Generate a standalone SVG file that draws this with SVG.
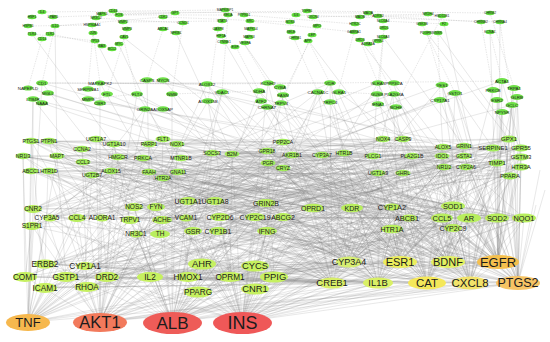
<svg xmlns="http://www.w3.org/2000/svg" width="550" height="342" viewBox="0 0 550 342">
<style>
text{font-family:"Liberation Sans",Arial,sans-serif;text-anchor:middle;fill:#1c1c1c}
.e{fill:none;stroke:#858585;stroke-width:.35;stroke-opacity:.55}
.ed{fill:none;stroke:#9a9a9a;stroke-width:.4;stroke-dasharray:1.5 1;stroke-opacity:.6}
.e0{fill:#62de3e}.e1{fill:#6fe048}.e2{fill:#a2eb5c}.e3{fill:#b8ee5e}.e4{fill:#c6f060}
.x0{font-size:3.4px}.x1{font-size:4.4px}.x2{font-size:5.2px}.x2b{font-size:6px}
.x3{font-size:6.5px}.x3m{font-size:7px}.x3b{font-size:7.4px}.x4{font-size:8.2px}.x4b{font-size:9.4px}
</style>
<rect width="550" height="342" fill="#ffffff"/>
<g id="connectors">
<path class="ed" d="M42 12L225 10M53 17L175 13M102 14L307 11M118 15L228 15M113 12L368 13M307 11L490 13M313 17L428 14M378 16L481 22M360 16L442 16M28 26L92 25M55 26L163 17M123 22L222 21M96 18L183 23M163 17L290 22M250 21L354 32M244 15L355 24M296 15L500 22M383 21L444 24M32 34L96 41M50 34L103 45M42 39L28 88M55 26L42 83M92 25L100 83M93 33L88 89M127 29L107 94M123 37L137 94M163 29L147 80M183 23L172 94M228 15L222 92M218 29L208 101M243 42L268 83M235 45L259 91M291 32L318 92M308 40L330 83M360 40L378 83M368 44L393 94M383 37L377 94M438 33L440 100M427 33L442 85M490 32L502 81M481 22L493 90M500 22L512 105M490 13L517 97M422 24L455 93M442 16L395 107M317 26L283 95M312 35L281 103M354 32L338 92M384 28L378 104M42 83L100 83M100 83L207 84M207 84L330 83M330 83L502 81M88 99L137 94M172 94L259 91M338 92L377 94"/>
<path class="e" d="M28 322L33 209M28 322L47 218M28 322L77 218M28 322L134 207M28 322L130 220M28 322L162 220M28 322L188 201M28 322L136 234M28 322L193 231M28 322L45 264M28 322L85 266M28 322L66 277M28 322L107 277M28 322L150 277M28 322L45 288M28 322L87 287M28 322L31 141M28 322L23 156M28 322L57 156M28 322L111 171M28 322L149 172M28 322L283 142M28 322L373 156M28 322L42 83M28 322L33 99M28 322L400 262M28 322L349 262M28 322L255 217M28 322L313 208M28 322L92 175M28 322L163 139M28 322L212 153M28 322L498 262M28 322L518 283"/>
<path class="e" d="M100 322L33 209M100 322L32 226M100 322L102 218M100 322L156 207M100 322L186 218M100 322L215 201M100 322L160 234M100 322L218 231M100 322L267 231M100 322L25 277M100 322L66 277M100 322L107 277M100 322L188 277M100 322L230 277M100 322L202 264M100 322L87 287M100 322L49 141M100 322L96 139M100 322L82 149M100 322L143 158M100 322L180 158M100 322L48 171M100 322L177 172M100 322L163 178M100 322L232 154M100 322L267 151M100 322L322 155M100 322L100 83M100 322L137 94M100 322L207 84M100 322L145 109M100 322L392 207M100 322L453 206M100 322L378 283M100 322L427 283M100 322L497 218M100 322L403 139M100 322L118 157M100 322L470 283M100 322L498 262M100 322L518 283"/>
<path class="e" d="M172 322L47 218M172 322L77 218M172 322L134 207M172 322L130 220M172 322L162 220M172 322L188 201M172 322L220 217M172 322L255 217M172 322L283 217M172 322L266 203M172 322L136 234M172 322L193 231M172 322L267 231M172 322L313 208M172 322L352 208M172 322L45 264M172 322L85 266M172 322L150 277M172 322L188 277M172 322L230 277M172 322L274 277M172 322L255 266M172 322L198 292M172 322L255 289M172 322L113 144M172 322L149 144M172 322L177 144M172 322L57 156M172 322L111 171M172 322L92 175M172 322L283 142M172 322L212 153M172 322L292 155M172 322L344 153M172 322L268 163M172 322L383 139M172 322L443 147M172 322L172 94M172 322L222 92M172 322L259 91M172 322L281 103M172 322L330 83M172 322L407 218M172 322L469 218M172 322L349 262M172 322L400 262M172 322L498 262M172 322L518 283M172 322L427 283M172 322L470 283"/>
<path class="e" d="M242 322L33 209M242 322L102 218M242 322L156 207M242 322L186 218M242 322L215 201M242 322L220 217M242 322L255 217M242 322L283 217M242 322L266 203M242 322L160 234M242 322L218 231M242 322L267 231M242 322L313 208M242 322L352 208M242 322L392 207M242 322L392 229M242 322L453 206M242 322L442 218M242 322L45 264M242 322L107 277M242 322L202 264M242 322L230 277M242 322L274 277M242 322L255 266M242 322L198 292M242 322L255 289M242 322L163 139M242 322L143 158M242 322L180 158M242 322L149 172M242 322L232 154M242 322L267 151M242 322L322 155M242 322L283 168M242 322L403 139M242 322L412 156M242 322L464 146M242 322L378 173M242 322L208 101M242 322L268 83M242 322L318 92M242 322L378 83M242 322L442 85M242 322L332 283M242 322L378 283M242 322L427 283M242 322L470 283M242 322L448 262M242 322L524 218M242 322L518 283M242 322L349 262M242 322L400 262M242 322L498 262"/>
<path class="e" d="M498 262L524 218M498 262L497 218M498 262L469 218M498 262L453 206M498 262L442 218M498 262L453 228M498 262L407 218M498 262L392 207M498 262L392 229M498 262L352 208M498 262L313 208M498 262L283 217M498 262L255 217M498 262L267 231M498 262L509 139M498 262L521 148M498 262L493 148M498 262L521 157M498 262L497 163M498 262L521 167M498 262L510 176M498 262L465 167M498 262L444 167M498 262L464 146M498 262L443 147M498 262L442 156M498 262L403 139M498 262L412 156M498 262L378 173M498 262L502 81M498 262L513 88M498 262L517 97M498 262L512 105M498 262L502 112M498 262L497 100M498 262L442 85M498 262L455 93M498 262L393 94M498 262L395 107M498 262L344 153M498 262L322 155M498 262L490 32M498 262L500 22M498 262L444 24M498 262L283 142M498 262L218 231M498 262L188 201M498 262L400 262M498 262L349 262M498 262L470 283M498 262L66 277M498 262L188 277M498 262L45 288"/>
<path class="e" d="M518 283L524 218M518 283L497 218M518 283L469 218M518 283L453 206M518 283L453 228M518 283L442 218M518 283L407 218M518 283L392 229M518 283L352 208M518 283L313 208M518 283L255 217M518 283L509 139M518 283L521 148M518 283L521 157M518 283L521 167M518 283L510 176M518 283L497 163M518 283L493 148M518 283L465 167M518 283L464 156M518 283L444 167M518 283L403 173M518 283L378 173M518 283L373 156M518 283L513 88M518 283L517 97M518 283L512 105M518 283L502 112M518 283L440 100M518 283L455 93M518 283L378 104M518 283L267 151M518 283L292 155M518 283L220 217M518 283L193 231M518 283L162 220M518 283L134 207M518 283L545 190M518 283L540 170M518 283L536 205M518 283L45 264M518 283L107 277M518 283L255 266"/>
<path class="e" d="M470 283L524 218M470 283L497 218M470 283L469 218M470 283L453 206M470 283L442 218M470 283L453 228M470 283L407 218M470 283L392 207M470 283L392 229M470 283L352 208M470 283L313 208M470 283L283 217M470 283L267 231M470 283L521 148M470 283L493 148M470 283L497 163M470 283L510 176M470 283L465 167M470 283L444 167M470 283L442 156M470 283L412 156M470 283L403 139M470 283L383 139M470 283L378 173M470 283L502 81M470 283L512 105M470 283L442 85M470 283L393 83M470 283L344 153M470 283L322 155M470 283L283 168M470 283L266 203M470 283L218 231M470 283L186 218M470 283L25 277M470 283L150 277M470 283L202 264"/>
<path class="e" d="M427 283L524 218M427 283L469 218M427 283L453 206M427 283L442 218M427 283L453 228M427 283L407 218M427 283L392 207M427 283L392 229M427 283L352 208M427 283L313 208M427 283L283 217M427 283L255 217M427 283L267 231M427 283L220 217M427 283L509 139M427 283L493 148M427 283L521 157M427 283L497 163M427 283L465 167M427 283L444 167M427 283L464 146M427 283L443 147M427 283L412 156M427 283L373 156M427 283L383 139M427 283L403 173M427 283L344 153M427 283L322 155M427 283L292 155M427 283L268 163M427 283L283 142M427 283L377 94M427 283L395 107M427 283L338 92M427 283L283 95M427 283L193 231M427 283L160 234M427 283L85 266M427 283L188 277M427 283L87 287"/>
<path class="e" d="M448 262L497 218M448 262L469 218M448 262L453 206M448 262L442 218M448 262L407 218M448 262L392 207M448 262L392 229M448 262L352 208M448 262L313 208M448 262L283 217M448 262L266 203M448 262L509 139M448 262L521 148M448 262L521 167M448 262L497 163M448 262L465 167M448 262L444 167M448 262L442 156M448 262L464 156M448 262L403 139M448 262L412 156M448 262L378 173M448 262L344 153M448 262L322 155M448 262L283 168M448 262L267 151M448 262L493 90M448 262L455 93M448 262L378 83M448 262L330 102M448 262L215 201M448 262L162 220"/>
<path class="e" d="M400 262L524 218M400 262L497 218M400 262L453 206M400 262L442 218M400 262L453 228M400 262L407 218M400 262L392 207M400 262L392 229M400 262L352 208M400 262L313 208M400 262L283 217M400 262L255 217M400 262L220 217M400 262L188 201M400 262L509 139M400 262L493 148M400 262L497 163M400 262L510 176M400 262L465 167M400 262L444 167M400 262L443 147M400 262L412 156M400 262L373 156M400 262L383 139M400 262L403 173M400 262L378 173M400 262L344 153M400 262L322 155M400 262L292 155M400 262L268 163M400 262L283 142M400 262L232 154M400 262L318 92M400 262L330 83M400 262L393 94M400 262L281 103M400 262L261 101M400 262L177 172M400 262L143 158M400 262L66 277M400 262L150 277M400 262L230 277M400 262L45 288"/>
<path class="e" d="M378 283L497 218M378 283L469 218M378 283L453 206M378 283L442 218M378 283L407 218M378 283L392 207M378 283L392 229M378 283L352 208M378 283L313 208M378 283L283 217M378 283L267 231M378 283L255 217M378 283L266 203M378 283L218 231M378 283L186 218M378 283L493 148M378 283L465 167M378 283L444 167M378 283L443 147M378 283L412 156M378 283L383 139M378 283L378 173M378 283L344 153M378 283L322 155M378 283L283 168M378 283L267 151M378 283L212 153M378 283L180 158M378 283L330 102M378 283L259 91M378 283L222 92M378 283L274 277M378 283L255 289M378 283L45 264M378 283L107 277M378 283L188 277M378 283L202 264"/>
<path class="e" d="M332 283L469 218M332 283L453 228M332 283L407 218M332 283L392 207M332 283L392 229M332 283L352 208M332 283L313 208M332 283L283 217M332 283L267 231M332 283L255 217M332 283L266 203M332 283L220 217M332 283L193 231M332 283L162 220M332 283L134 207M332 283L464 146M332 283L444 167M332 283L412 156M332 283L373 156M332 283L403 139M332 283L378 173M332 283L344 153M332 283L322 155M332 283L292 155M332 283L268 163M332 283L232 154M332 283L177 144M332 283L149 172M332 283L330 83M332 283L279 86M332 283L207 84M332 283L274 277M332 283L230 277M332 283L25 277M332 283L66 277M332 283L107 277M332 283L150 277M332 283L188 277M332 283L202 264M332 283L45 264M332 283L85 266M332 283L45 288M332 283L87 287"/>
<path class="e" d="M349 262L453 206M349 262L442 218M349 262L407 218M349 262L392 207M349 262L392 229M349 262L352 208M349 262L313 208M349 262L283 217M349 262L255 217M349 262L220 217M349 262L188 201M349 262L160 234M349 262L465 167M349 262L444 167M349 262L442 156M349 262L378 173M349 262L403 173M349 262L412 156M349 262L344 153M349 262L322 155M349 262L292 155M349 262L283 168M349 262L267 151M349 262L212 153M349 262L163 178M349 262L118 157M349 262L393 94M349 262L318 92M349 262L163 109M349 262L96 139M349 262L274 277M349 262L255 266M349 262L25 277M349 262L66 277M349 262L150 277M349 262L45 264M349 262L85 266M349 262L198 292M349 262L230 277"/>
<path class="e" d="M100 83L330 83M42 83L207 84M23 156L180 158M31 141L177 144M32 171L111 171M57 156L443 147M49 141L403 139M82 149L322 155M113 144L509 139M118 157L464 156M143 158L412 156M163 139L493 148M177 172L442 156M92 175L378 173M83 162L268 163M48 171L283 168M149 172L521 167M111 171L465 167M163 178L403 173M212 153L373 156M232 154L521 148M267 151L510 176M283 142L444 167M292 155L497 163M322 155L521 157M344 153L493 148M268 163L383 139M42 83L111 171M33 99L83 162M100 83L143 158M137 94L180 158M147 80L149 172M163 80L232 154M172 94L212 153M207 84L267 151M222 92L292 155M208 101L163 178M145 109L92 175M268 83L283 142M259 91L322 155M283 95L268 163M330 83L344 153M318 92L283 168M338 92L403 139M378 83L412 156M393 94L442 156M377 94L373 156M442 85L464 146M455 93L493 148M440 100L444 167M502 81L521 148M513 88L509 139M517 97L521 167M502 112L497 163M497 100L510 176M32 34L113 144M55 26L57 156M96 41L149 144M118 43L163 139M123 37L267 151M176 33L232 154M221 36L283 142M243 42L322 155M308 40L383 139M360 40L443 147M383 37L464 146M427 33L509 139M438 33L521 148M42 83L524 218M33 99L497 218M28 88L469 218M100 83L453 228M48 93L442 218M107 94L407 218M137 94L392 229M42 103L352 208M23 156L313 208M31 141L392 207M32 171L266 203M57 156L255 217M147 80L521 157M207 84L521 167M163 80L510 176M100 103L497 163M88 99L465 167M330 83L33 209M378 83L47 218M393 94L32 226M442 85L77 218M502 81L102 218M512 105L134 207M455 93L130 220M440 100L156 207M395 107L162 220M377 94L186 218M318 92L136 234M283 95L160 234M261 101L193 231M222 92L188 201"/>
<path class="e" d="M283 217L407 218M47 218L102 218M102 218L186 218M33 209L134 207M156 207L188 201M215 201L266 203M313 208L392 207M453 206L524 218M442 218L524 218M136 234L193 231M218 231L267 231M392 229L453 228M25 277L66 277M66 277L107 277M107 277L150 277M150 277L188 277M188 277L230 277M230 277L274 277M45 264L85 266M202 264L255 266M45 288L87 287M198 292L255 289M332 283L378 283M378 283L427 283M427 283L470 283M470 283L518 283M349 262L400 262M400 262L448 262M448 262L498 262M45 264L33 209M85 266L77 218M25 277L32 226M66 277L47 218M107 277L102 218M150 277L134 207M188 277L186 218M230 277L220 217M274 277L255 217M202 264L193 231M255 266L267 231M45 288L31 141M87 287L82 149M198 292L212 153M255 289L283 142M25 277L23 156M66 277L57 156M107 277L113 144M150 277L149 144M188 277L177 172M230 277L232 154M274 277L268 163M45 264L48 171M85 266L92 175M202 264L163 178M255 266L322 155M30 230L30 318M33 209L33 99"/>
<path class="e" d="M33 209L163 139M33 209L283 142M33 209L443 147M33 209L143 158M33 209L292 155M50 218L177 144M50 218L232 154M50 218L383 139M50 218L118 157M50 218L509 139M32 226L149 144M32 226L267 151M32 226L412 156M32 226L111 171M32 226L181 158M77 218L31 141M77 218L322 155M77 218L464 146M77 218L178 172M77 218L521 148M102 218L23 156M102 218L344 153M102 218L442 156M102 218L212 153M102 218L521 157M134 207L49 141M134 207L268 163M134 207L464 156M134 207L57 156M134 207L497 163M156 207L96 139M156 207L283 168M156 207L444 167M156 207L31 171M156 207L521 167M130 220L114 144M130 220L373 156M130 220L466 167M130 220L49 171M130 220L510 176M162 220L82 149M162 220L378 173M162 220L403 173M162 220L92 175M162 220L292 155M186 218L31 141M186 218L383 139M186 218L493 148M186 218L83 162M186 218L322 155M188 201L23 156M188 201L403 139M188 201L509 139M188 201L31 171M188 201L344 153M215 201L49 141M215 201L443 147M215 201L521 148M215 201L49 171M215 201L373 156M220 217L96 139M220 217L464 146M220 217L521 157M220 217L111 171M220 217L412 156M255 217L82 149M255 217L442 156M255 217L497 163M255 217L149 172M255 217L57 156M283 217L31 141M283 217L464 156M283 217L521 167M283 217L163 178M283 217L118 157M266 203L23 156M266 203L444 167M266 203L510 176M266 203L92 175M266 203L143 158M136 234L283 142M136 234L466 167M136 234L267 151M136 234L177 144M136 234L509 139M160 234L212 153M160 234L378 173M160 234L292 155M160 234L163 139M160 234L521 148M193 231L232 154M193 231L403 173M193 231L322 155M193 231L149 144M193 231L521 157M218 231L31 171M218 231L493 148M218 231L344 153M218 231L82 149M218 231L497 163M267 231L49 171M267 231L509 139M267 231L268 163M267 231L114 144M267 231L521 167"/>
<path class="e" d="M313 208L31 141M313 208L23 156M313 208L111 171M313 208L521 148M313 208L283 168M352 208L49 141M352 208L57 156M352 208L149 172M352 208L521 157M352 208L178 172M392 207L96 139M392 207L118 157M392 207L163 178M392 207L497 163M392 207L181 158M409 218L114 144M409 218L83 162M409 218L92 175M409 218L521 167M409 218L232 154M392 229L82 149M392 229L31 171M392 229L283 142M392 229L510 176M392 229L267 151M453 206L149 144M453 206L49 171M453 206L212 153M453 206L31 141M453 206L268 163M442 218L163 139M442 218L111 171M442 218L232 154M442 218L23 156M442 218L283 168M469 218L177 144M469 218L149 172M469 218L267 151M469 218L57 156M469 218L383 139M497 218L143 158M497 218L178 172M497 218L292 155M497 218L49 141M497 218L403 139M524 218L181 158M524 218L163 178M524 218L322 155M524 218L96 139M524 218L443 147M453 228L83 162M453 228L92 175M453 228L344 153M453 228L118 157M453 228L464 146M31 141L443 147M49 141L466 167M96 139L292 155M114 144L521 148M82 149L464 156M149 144L383 139M163 139L521 167M177 144L412 156M23 156L322 155M57 156L509 139M118 157L373 156M143 158L497 163M181 158L403 173M83 162L283 168M31 171L267 151M49 171L510 176M111 171L464 146M149 172L493 148M178 172L442 156M163 178L344 153M92 175L378 173M283 142L521 157M212 153L444 167M232 154L403 139M268 163L521 148M33 209L352 208M50 218L497 218M32 226L193 231M77 218L392 229M102 218L524 218M134 207L392 207M156 207L453 206M130 220L313 208M162 220L469 218M186 218L453 228M188 201L409 218M215 201L442 218M220 217L267 231M255 217L497 218M283 217L453 206M266 203L524 218M136 234L352 208M160 234L392 229M193 231L392 207M218 231L442 218"/>
<path class="e" d="M45 264L392 207M45 264L443 147M45 264L524 218M45 264L509 139M85 266L313 208M85 266L442 156M85 266L442 218M85 266L292 155M25 277L215 201M25 277L283 142M25 277L453 206M25 277L383 139M66 277L266 203M66 277L344 153M66 277L497 218M66 277L521 148M107 277L352 208M107 277L373 156M107 277L469 218M107 277L521 157M150 277L409 218M150 277L464 156M150 277L524 218M150 277L378 173M188 277L392 229M188 277L466 167M188 277L497 218M188 277L322 155M230 277L453 206M230 277L403 173M230 277L469 218M230 277L96 139M274 277L442 218M274 277L493 148M274 277L33 209M274 277L31 141M202 264L453 228M202 264L412 156M202 264L32 226M202 264L23 156M255 266L524 218M255 266L521 148M255 266L77 218M255 266L31 171M45 288L283 217M45 288L268 163M45 288L392 207M45 288L464 146M87 287L267 231M87 287L283 168M87 287L392 229M87 287L444 167M198 292L469 218M198 292L497 163M198 292L50 218M198 292L49 141M255 289L497 218M255 289L521 167M255 289L102 218M255 289L83 162"/>
</g>
<g id="nodes">
<g id="n-il4"><ellipse class="e0" cx="42" cy="12" rx="4.5" ry="2.2"/><text class="x0" x="42" y="13.2">IL4</text></g>
<g id="n-hsf1"><ellipse class="e0" cx="32" cy="17" rx="4.5" ry="2.2"/><text class="x0" x="32" y="18.2">HSF1</text></g>
<g id="n-lpar1"><ellipse class="e0" cx="53" cy="17" rx="4.5" ry="2.2"/><text class="x0" x="53" y="18.2">LPAR1</text></g>
<g id="n-hspb1"><ellipse class="e0" cx="28" cy="26" rx="4.5" ry="2.2"/><text class="x0" x="28" y="27.2">HSPB1</text></g>
<g id="n-il10"><ellipse class="e0" cx="55" cy="26" rx="4.5" ry="2.2"/><text class="x0" x="55" y="27.2">IL10</text></g>
<g id="n-tlr4"><ellipse class="e0" cx="32" cy="34" rx="4.5" ry="2.2"/><text class="x0" x="32" y="35.2">TLR4</text></g>
<g id="n-tlr2"><ellipse class="e0" cx="50" cy="34" rx="4.5" ry="2.2"/><text class="x0" x="50" y="35.2">TLR2</text></g>
<g id="n-cd14"><ellipse class="e0" cx="42" cy="39" rx="4.5" ry="2.2"/><text class="x0" x="42" y="40.2">CD14</text></g>
<g id="n-nr3c2"><ellipse class="e0" cx="96" cy="18" rx="4.5" ry="2.2"/><text class="x0" x="96" y="19.2">NR3C2</text></g>
<g id="n-mapk1"><ellipse class="e0" cx="102" cy="14" rx="4.5" ry="2.2"/><text class="x0" x="102" y="15.2">MAPK1</text></g>
<g id="n-cd44"><ellipse class="e0" cx="113" cy="11" rx="4.5" ry="2.2"/><text class="x0" x="113" y="12.2">CD44</text></g>
<g id="n-fos"><ellipse class="e0" cx="119" cy="15" rx="4.5" ry="2.2"/><text class="x0" x="119" y="16.2">FOS</text></g>
<g id="n-hsp90"><ellipse class="e0" cx="92" cy="25" rx="4.5" ry="2.2"/><text class="x0" x="92" y="26.2">HSP90AA1</text></g>
<g id="n-jun"><ellipse class="e0" cx="93" cy="33" rx="4.5" ry="2.2"/><text class="x0" x="93" y="34.2">JUN</text></g>
<g id="n-mmp2"><ellipse class="e0" cx="123" cy="22" rx="4.5" ry="2.2"/><text class="x0" x="123" y="23.2">MMP2</text></g>
<g id="n-mmp3"><ellipse class="e0" cx="127" cy="29" rx="4.5" ry="2.2"/><text class="x0" x="127" y="30.2">MMP3</text></g>
<g id="n-tp53"><ellipse class="e0" cx="95" cy="41" rx="4.5" ry="2.2"/><text class="x0" x="95" y="42.2">TP53</text></g>
<g id="n-bax"><ellipse class="e0" cx="102" cy="46" rx="4.5" ry="2.2"/><text class="x0" x="102" y="47.2">BAX</text></g>
<g id="n-bcl2"><ellipse class="e0" cx="112" cy="49" rx="4.5" ry="2.2"/><text class="x0" x="112" y="50.2">BCL2</text></g>
<g id="n-myc"><ellipse class="e0" cx="119" cy="44" rx="4.5" ry="2.2"/><text class="x0" x="119" y="45.2">MYC</text></g>
<g id="n-cav1"><ellipse class="e0" cx="124" cy="37" rx="4.5" ry="2.2"/><text class="x0" x="124" y="38.2">CAV1</text></g>
<g id="n-gpt"><ellipse class="e0" cx="175" cy="13" rx="4.5" ry="2.2"/><text class="x0" x="175" y="14.2">GPT</text></g>
<g id="n-cdk2"><ellipse class="e0" cx="163" cy="17" rx="4.5" ry="2.2"/><text class="x0" x="163" y="18.2">CDK2</text></g>
<g id="n-ccnd1"><ellipse class="e0" cx="183" cy="23" rx="4.5" ry="2.2"/><text class="x0" x="183" y="24.2">CCND1</text></g>
<g id="n-abca1"><ellipse class="e0" cx="163" cy="29" rx="4.5" ry="2.2"/><text class="x0" x="163" y="30.2">ABCA1</text></g>
<g id="n-nfkb1"><ellipse class="e0" cx="176" cy="33" rx="4.5" ry="2.2"/><text class="x0" x="176" y="34.2">NFKB1</text></g>
<g id="n-mapk8ip1"><ellipse class="e0" cx="225" cy="10" rx="4.5" ry="2.2"/><text class="x0" x="225" y="11.2">MAPK8IP1</text></g>
<g id="n-rela"><ellipse class="e0" cx="228" cy="15" rx="4.5" ry="2.2"/><text class="x0" x="228" y="16.2">RELA</text></g>
<g id="n-ptpn11"><ellipse class="e0" cx="244" cy="15" rx="4.5" ry="2.2"/><text class="x0" x="244" y="16.2">PTPN11</text></g>
<g id="n-stat3"><ellipse class="e0" cx="222" cy="21" rx="4.5" ry="2.2"/><text class="x0" x="222" y="22.2">STAT3</text></g>
<g id="n-src"><ellipse class="e0" cx="250" cy="21" rx="4.5" ry="2.2"/><text class="x0" x="250" y="22.2">SRC</text></g>
<g id="n-casp8"><ellipse class="e0" cx="218" cy="29" rx="4.5" ry="2.2"/><text class="x0" x="218" y="30.2">CASP8</text></g>
<g id="n-mapk14"><ellipse class="e0" cx="251" cy="29" rx="4.5" ry="2.2"/><text class="x0" x="251" y="30.2">MAPK14</text></g>
<g id="n-hif1a"><ellipse class="e0" cx="221" cy="36" rx="4.5" ry="2.2"/><text class="x0" x="221" y="37.2">HIF1A</text></g>
<g id="n-mapk3"><ellipse class="e0" cx="249" cy="37" rx="4.5" ry="2.2"/><text class="x0" x="249" y="38.2">MAPK3</text></g>
<g id="n-ctnnb1"><ellipse class="e0" cx="224" cy="42" rx="4.5" ry="2.2"/><text class="x0" x="224" y="43.2">CTNNB1</text></g>
<g id="n-egf"><ellipse class="e0" cx="235" cy="47" rx="4.5" ry="2.2"/><text class="x0" x="235" y="48.2">EGF</text></g>
<g id="n-vegfa"><ellipse class="e0" cx="245" cy="43" rx="4.5" ry="2.2"/><text class="x0" x="245" y="44.2">VEGFA</text></g>
<g id="n-tgfb1"><ellipse class="e0" cx="307" cy="11" rx="4.5" ry="2.2"/><text class="x0" x="307" y="12.2">TGFB1</text></g>
<g id="n-il6"><ellipse class="e0" cx="296" cy="15" rx="4.5" ry="2.2"/><text class="x0" x="296" y="16.2">IL6</text></g>
<g id="n-cxcr4"><ellipse class="e0" cx="313" cy="17" rx="4.5" ry="2.2"/><text class="x0" x="313" y="18.2">CXCR4</text></g>
<g id="n-nos3"><ellipse class="e0" cx="290" cy="22" rx="4.5" ry="2.2"/><text class="x0" x="290" y="23.2">NOS3</text></g>
<g id="n-mpo"><ellipse class="e0" cx="317" cy="26" rx="4.5" ry="2.2"/><text class="x0" x="317" y="27.2">MPO</text></g>
<g id="n-sele"><ellipse class="e0" cx="291" cy="32" rx="4.5" ry="2.2"/><text class="x0" x="291" y="33.2">SELE</text></g>
<g id="n-lep"><ellipse class="e0" cx="312" cy="35" rx="4.5" ry="2.2"/><text class="x0" x="312" y="36.2">LEP</text></g>
<g id="n-chrm1"><ellipse class="e0" cx="295" cy="38" rx="4.5" ry="2.2"/><text class="x0" x="295" y="39.2">CHRM1</text></g>
<g id="n-app"><ellipse class="e0" cx="308" cy="41" rx="4.5" ry="2.2"/><text class="x0" x="308" y="42.2">APP</text></g>
<g id="n-maoa"><ellipse class="e0" cx="368" cy="13" rx="4.5" ry="2.2"/><text class="x0" x="368" y="14.2">MAOA</text></g>
<g id="n-maob"><ellipse class="e0" cx="360" cy="17" rx="4.5" ry="2.2"/><text class="x0" x="360" y="18.2">MAOB</text></g>
<g id="n-adrb2"><ellipse class="e0" cx="378" cy="16" rx="4.5" ry="2.2"/><text class="x0" x="378" y="17.2">ADRB2</text></g>
<g id="n-slc6a4"><ellipse class="e0" cx="383" cy="21" rx="4.5" ry="2.2"/><text class="x0" x="383" y="22.2">SLC6A4</text></g>
<g id="n-htr2c"><ellipse class="e0" cx="355" cy="24" rx="4.5" ry="2.2"/><text class="x0" x="355" y="25.2">HTR2C</text></g>
<g id="n-drd1"><ellipse class="e0" cx="384" cy="28" rx="4.5" ry="2.2"/><text class="x0" x="384" y="29.2">DRD1</text></g>
<g id="n-gabra1"><ellipse class="e0" cx="354" cy="32" rx="4.5" ry="2.2"/><text class="x0" x="354" y="33.2">GABRA1</text></g>
<g id="n-slc6a3"><ellipse class="e0" cx="383" cy="37" rx="4.5" ry="2.2"/><text class="x0" x="383" y="38.2">SLC6A3</text></g>
<g id="n-drd3"><ellipse class="e0" cx="360" cy="40" rx="4.5" ry="2.2"/><text class="x0" x="360" y="41.2">DRD3</text></g>
<g id="n-adra2a"><ellipse class="e0" cx="368" cy="44" rx="4.5" ry="2.2"/><text class="x0" x="368" y="45.2">ADRA2A</text></g>
<g id="n-oprk1"><ellipse class="e0" cx="378" cy="41" rx="4.5" ry="2.2"/><text class="x0" x="378" y="42.2">OPRK1</text></g>
<g id="n-nr1h4"><ellipse class="e0" cx="428" cy="14" rx="4.5" ry="2.2"/><text class="x0" x="428" y="15.2">NR1H4</text></g>
<g id="n-hsd11b1"><ellipse class="e0" cx="442" cy="16" rx="4.5" ry="2.2"/><text class="x0" x="442" y="17.2">HSD11B1</text></g>
<g id="n-gsk3b"><ellipse class="e0" cx="422" cy="24" rx="4.5" ry="2.2"/><text class="x0" x="422" y="25.2">GSK3B</text></g>
<g id="n-f2"><ellipse class="e0" cx="444" cy="24" rx="4.5" ry="2.2"/><text class="x0" x="444" y="25.2">F2</text></g>
<g id="n-pdgfrb"><ellipse class="e0" cx="427" cy="33" rx="4.5" ry="2.2"/><text class="x0" x="427" y="34.2">PDGFRB</text></g>
<g id="n-insr"><ellipse class="e0" cx="438" cy="33" rx="4.5" ry="2.2"/><text class="x0" x="438" y="34.2">INSR</text></g>
<g id="n-chrm2"><ellipse class="e0" cx="490" cy="13" rx="4.5" ry="2.2"/><text class="x0" x="490" y="14.2">CHRM2</text></g>
<g id="n-chrnb2"><ellipse class="e0" cx="481" cy="22" rx="4.5" ry="2.2"/><text class="x0" x="481" y="23.2">CHRNB2</text></g>
<g id="n-chrna4"><ellipse class="e0" cx="500" cy="22" rx="4.5" ry="2.2"/><text class="x0" x="500" y="23.2">CHRNA4</text></g>
<g id="n-kcna1"><ellipse class="e0" cx="490" cy="32" rx="4.5" ry="2.2"/><text class="x0" x="490" y="33.2">KCNA1</text></g>

<g id="n-cd1"><ellipse class="e1" cx="42" cy="83" rx="6" ry="2.8"/><text class="x1" x="42" y="84.6">CD1</text></g>
<g id="n-napepld"><ellipse class="e1" cx="28" cy="88" rx="5" ry="2.6"/><text class="x1" x="28" y="89.6">NAPEPLD</text></g>
<g id="n-mgll"><ellipse class="e1" cx="48" cy="93" rx="6" ry="2.8"/><text class="x1" x="48" y="94.6">MGLL</text></g>
<g id="n-ltb4r"><ellipse class="e1" cx="33" cy="99" rx="6" ry="2.8"/><text class="x1" x="33" y="100.6">LTB4R</text></g>
<g id="n-naaa"><ellipse class="e1" cx="42" cy="103" rx="6" ry="2.8"/><text class="x1" x="42" y="104.6">NAAA</text></g>
<g id="n-mapkapk2"><ellipse class="e1" cx="100" cy="83" rx="5" ry="2.6"/><text class="x1" x="100" y="84.6">MAPKAPK2</text></g>
<g id="n-serpina1"><ellipse class="e1" cx="88" cy="89" rx="6" ry="2.8"/><text class="x1" x="88" y="90.6">SERPINA1</text></g>
<g id="n-ftl"><ellipse class="e1" cx="107" cy="94" rx="6" ry="2.8"/><text class="x1" x="107" y="95.6">FTL</text></g>
<g id="n-mmp9"><ellipse class="e1" cx="88" cy="99" rx="6" ry="2.8"/><text class="x1" x="88" y="100.6">MMP9</text></g>
<g id="n-cbr1"><ellipse class="e1" cx="100" cy="103" rx="6" ry="2.8"/><text class="x1" x="100" y="104.6">CBR1</text></g>
<g id="n-flt4"><ellipse class="e1" cx="137" cy="94" rx="6" ry="2.8"/><text class="x1" x="137" y="95.6">FLT4</text></g>
<g id="n-casp3"><ellipse class="e1" cx="147" cy="80" rx="6" ry="2.8"/><text class="x1" x="147" y="81.6">CASP3</text></g>
<g id="n-mycn"><ellipse class="e1" cx="163" cy="80" rx="6" ry="2.8"/><text class="x1" x="163" y="81.6">MYCN</text></g>
<g id="n-nmb"><ellipse class="e1" cx="172" cy="94" rx="6" ry="2.8"/><text class="x1" x="172" y="95.6">NMB</text></g>
<g id="n-alox12"><ellipse class="e1" cx="207" cy="84" rx="6" ry="2.8"/><text class="x1" x="207" y="85.6">ALOX12</text></g>
<g id="n-vdac1"><ellipse class="e1" cx="222" cy="92" rx="6" ry="2.8"/><text class="x1" x="222" y="93.6">VDAC1</text></g>
<g id="n-alox15b"><ellipse class="e1" cx="208" cy="101" rx="6" ry="2.8"/><text class="x1" x="208" y="102.6">ALOX15B</text></g>
<g id="n-grin2a"><ellipse class="e1" cx="145" cy="109" rx="6" ry="2.8"/><text class="x1" x="145" y="110.6">GRIN2A</text></g>
<g id="n-alox5ap"><ellipse class="e1" cx="163" cy="109" rx="6" ry="2.8"/><text class="x1" x="163" y="110.6">ALOX5AP</text></g>
<g id="n-kcnh2"><ellipse class="e1" cx="268" cy="83" rx="6" ry="2.8"/><text class="x1" x="268" y="84.6">KCNH2</text></g>
<g id="n-cyba"><ellipse class="e1" cx="280" cy="87" rx="6" ry="2.8"/><text class="x1" x="280" y="88.6">CYBA</text></g>
<g id="n-sdha"><ellipse class="e1" cx="259" cy="91" rx="6" ry="2.8"/><text class="x1" x="259" y="92.6">SDHA</text></g>
<g id="n-fasn"><ellipse class="e1" cx="283" cy="95" rx="6" ry="2.8"/><text class="x1" x="283" y="96.6">FASN</text></g>
<g id="n-atf2"><ellipse class="e1" cx="261" cy="101" rx="6" ry="2.8"/><text class="x1" x="261" y="102.6">ATF2</text></g>
<g id="n-trpv4"><ellipse class="e1" cx="281" cy="103" rx="6" ry="2.8"/><text class="x1" x="281" y="104.6">TRPV4</text></g>
<g id="n-chrna7"><ellipse class="e1" cx="267" cy="107" rx="6" ry="2.8"/><text class="x1" x="267" y="108.6">CHRNA7</text></g>
<g id="n-vdr"><ellipse class="e1" cx="330" cy="83" rx="6" ry="2.8"/><text class="x1" x="330" y="84.6">VDR</text></g>
<g id="n-cacna1c"><ellipse class="e1" cx="318" cy="92" rx="6" ry="2.8"/><text class="x1" x="318" y="93.6">CACNA1C</text></g>
<g id="n-glra1"><ellipse class="e1" cx="339" cy="92" rx="6" ry="2.8"/><text class="x1" x="339" y="93.6">GLRA1</text></g>
<g id="n-trpc4"><ellipse class="e1" cx="330" cy="102" rx="6" ry="2.8"/><text class="x1" x="330" y="103.6">TRPC4</text></g>
<g id="n-glra3"><ellipse class="e1" cx="378" cy="83" rx="6" ry="2.8"/><text class="x1" x="378" y="84.6">GLRA3</text></g>
<g id="n-ppp3ca"><ellipse class="e1" cx="394" cy="83" rx="6" ry="2.8"/><text class="x1" x="394" y="84.6">PPP3CA</text></g>
<g id="n-gusb"><ellipse class="e1" cx="377" cy="94" rx="6" ry="2.8"/><text class="x1" x="377" y="95.6">GUSB</text></g>
<g id="n-pla2g4a"><ellipse class="e1" cx="394" cy="94" rx="6" ry="2.8"/><text class="x1" x="394" y="95.6">PLA2G4A</text></g>
<g id="n-ifna1"><ellipse class="e1" cx="378" cy="104" rx="6" ry="2.8"/><text class="x1" x="378" y="105.6">IFNA1</text></g>
<g id="n-bche"><ellipse class="e1" cx="396" cy="107" rx="6" ry="2.8"/><text class="x1" x="396" y="108.6">BCHE</text></g>
<g id="n-yes1"><ellipse class="e1" cx="442" cy="85" rx="6.5" ry="3"/><text class="x1" x="442" y="86.6">YES1</text></g>
<g id="n-gsto1"><ellipse class="e1" cx="455" cy="93" rx="6.5" ry="3"/><text class="x1" x="455" y="94.6">GSTO1</text></g>
<g id="n-cyp17a1"><ellipse class="e1" cx="440" cy="100" rx="6.5" ry="3"/><text class="x1" x="440" y="101.6">CYP17A1</text></g>
<g id="n-acta1"><ellipse class="e1" cx="502" cy="81" rx="6.5" ry="3"/><text class="x1" x="502" y="82.6">ACTA1</text></g>
<g id="n-prkcb"><ellipse class="e1" cx="493" cy="90" rx="6.5" ry="3"/><text class="x1" x="493" y="91.6">PRKCB</text></g>
<g id="n-trpa1"><ellipse class="e1" cx="514" cy="88" rx="6.5" ry="3"/><text class="x1" x="514" y="89.6">TRPA1</text></g>
<g id="n-glrb"><ellipse class="e1" cx="517" cy="97" rx="6.5" ry="3"/><text class="x1" x="517" y="98.6">GLRB</text></g>
<g id="n-gclc"><ellipse class="e1" cx="512" cy="105" rx="6.5" ry="3"/><text class="x1" x="512" y="106.6">GCLC</text></g>
<g id="n-npy5r"><ellipse class="e1" cx="502" cy="112" rx="6.5" ry="3"/><text class="x1" x="502" y="113.6">NPY5R</text></g>
<g id="n-esr2"><ellipse class="e1" cx="497" cy="100" rx="6.5" ry="3"/><text class="x1" x="497" y="101.6">ESR2</text></g>

<g id="n-ptgs1"><ellipse class="e2" cx="31" cy="141" rx="7.5" ry="3.2"/><text class="x2" x="31" y="142.9">PTGS1</text></g>
<g id="n-ptpn1"><ellipse class="e2" cx="49" cy="141" rx="7.5" ry="3.2"/><text class="x2" x="49" y="142.9">PTPN1</text></g>
<g id="n-ugt1a7"><ellipse class="e2" cx="96" cy="139" rx="7.5" ry="3.2"/><text class="x2" x="96" y="140.9">UGT1A7</text></g>
<g id="n-ugt1a10"><ellipse class="e2" cx="114" cy="144" rx="7.5" ry="3.2"/><text class="x2" x="114" y="145.9">UGT1A10</text></g>
<g id="n-ccna2"><ellipse class="e2" cx="82" cy="149" rx="7.5" ry="3.2"/><text class="x2" x="82" y="150.9">CCNA2</text></g>
<g id="n-parp1"><ellipse class="e2" cx="149" cy="144" rx="7.5" ry="3.2"/><text class="x2" x="149" y="145.9">PARP1</text></g>
<g id="n-flt1"><ellipse class="e2" cx="163" cy="139" rx="7.5" ry="3.2"/><text class="x2" x="163" y="140.9">FLT1</text></g>
<g id="n-nox1"><ellipse class="e2" cx="177" cy="144" rx="7.5" ry="3.2"/><text class="x2" x="177" y="145.9">NOX1</text></g>
<g id="n-nr1i3"><ellipse class="e2" cx="23" cy="156" rx="7.5" ry="3.2"/><text class="x2" x="23" y="157.9">NR1I3</text></g>
<g id="n-mapt"><ellipse class="e2" cx="57" cy="156" rx="7.5" ry="3.2"/><text class="x2" x="57" y="157.9">MAPT</text></g>
<g id="n-hmgcr"><ellipse class="e2" cx="118" cy="157" rx="7.5" ry="3.2"/><text class="x2" x="118" y="158.9">HMGCR</text></g>
<g id="n-prkca"><ellipse class="e2" cx="143" cy="158" rx="7.5" ry="3.2"/><text class="x2" x="143" y="159.9">PRKCA</text></g>
<g id="n-mtnr1b"><ellipse class="e2" cx="181" cy="158" rx="7.5" ry="3.2"/><text class="x2" x="181" y="159.9">MTNR1B</text></g>
<g id="n-ccl3"><ellipse class="e2" cx="83" cy="162" rx="7.5" ry="3.2"/><text class="x2" x="83" y="163.9">CCL3</text></g>
<g id="n-abcc1"><ellipse class="e2" cx="31" cy="171" rx="7.5" ry="3.2"/><text class="x2" x="31" y="172.9">ABCC1</text></g>
<g id="n-htr1d"><ellipse class="e2" cx="49" cy="171" rx="7.5" ry="3.2"/><text class="x2" x="49" y="172.9">HTR1D</text></g>
<g id="n-alox15"><ellipse class="e2" cx="111" cy="171" rx="7.5" ry="3.2"/><text class="x2" x="111" y="172.9">ALOX15</text></g>
<g id="n-faah"><ellipse class="e2" cx="149" cy="172" rx="7.5" ry="3.2"/><text class="x2" x="149" y="173.9">FAAH</text></g>
<g id="n-gna11"><ellipse class="e2" cx="178" cy="172" rx="7.5" ry="3.2"/><text class="x2" x="178" y="173.9">GNA11</text></g>
<g id="n-htr2a"><ellipse class="e2" cx="163" cy="178" rx="7.5" ry="3.2"/><text class="x2" x="163" y="179.9">HTR2A</text></g>
<g id="n-ugt2b7"><ellipse class="e2" cx="92" cy="175" rx="7.5" ry="3.2"/><text class="x2" x="92" y="176.9">UGT2B7</text></g>
<g id="n-ppp2ca"><ellipse class="e2" cx="283" cy="142" rx="7.5" ry="3.2"/><text class="x2" x="283" y="143.9">PPP2CA</text></g>
<g id="n-socs3"><ellipse class="e2" cx="212" cy="153" rx="7.5" ry="3.2"/><text class="x2" x="212" y="154.9">SOCS3</text></g>
<g id="n-b2m"><ellipse class="e2" cx="232" cy="154" rx="7.5" ry="3.2"/><text class="x2" x="232" y="155.9">B2M</text></g>
<g id="n-gpr18"><ellipse class="e2" cx="267" cy="151" rx="7.5" ry="3.2"/><text class="x2" x="267" y="152.9">GPR18</text></g>
<g id="n-akr1b1"><ellipse class="e2" cx="292" cy="155" rx="7.5" ry="3.2"/><text class="x2" x="292" y="156.9">AKR1B1</text></g>
<g id="n-cyp3a7"><ellipse class="e2" cx="322" cy="155" rx="7.5" ry="3.2"/><text class="x2" x="322" y="156.9">CYP3A7</text></g>
<g id="n-htr1b"><ellipse class="e2" cx="344" cy="153" rx="7.5" ry="3.2"/><text class="x2" x="344" y="154.9">HTR1B</text></g>
<g id="n-pgr"><ellipse class="e2" cx="268" cy="163" rx="7.5" ry="3.2"/><text class="x2" x="268" y="164.9">PGR</text></g>
<g id="n-cryz"><ellipse class="e2" cx="283" cy="168" rx="7.5" ry="3.2"/><text class="x2" x="283" y="169.9">CRYZ</text></g>
<g id="n-nox4"><ellipse class="e2" cx="383" cy="139" rx="7.5" ry="3.2"/><text class="x2" x="383" y="140.9">NOX4</text></g>
<g id="n-casp9"><ellipse class="e2" cx="403" cy="139" rx="7.5" ry="3.2"/><text class="x2" x="403" y="140.9">CASP9</text></g>
<g id="n-alox5"><ellipse class="e2" cx="443" cy="147" rx="7.5" ry="3.2"/><text class="x2" x="443" y="148.9">ALOX5</text></g>
<g id="n-grin1"><ellipse class="e2" cx="464" cy="146" rx="7.5" ry="3.2"/><text class="x2" x="464" y="147.9">GRIN1</text></g>
<g id="n-plcg1"><ellipse class="e2" cx="373" cy="156" rx="7.5" ry="3.2"/><text class="x2" x="373" y="157.9">PLCG1</text></g>
<g id="n-pla2g1b"><ellipse class="e2" cx="412" cy="156" rx="7.5" ry="3.2"/><text class="x2" x="412" y="157.9">PLA2G1B</text></g>
<g id="n-ido1"><ellipse class="e2" cx="442" cy="156" rx="7.5" ry="3.2"/><text class="x2" x="442" y="157.9">IDO1</text></g>
<g id="n-gsta2"><ellipse class="e2" cx="464" cy="156" rx="7.5" ry="3.2"/><text class="x2" x="464" y="157.9">GSTA2</text></g>
<g id="n-nr1i2"><ellipse class="e2" cx="444" cy="167" rx="7.5" ry="3.2"/><text class="x2" x="444" y="168.9">NR1I2</text></g>
<g id="n-cyp2a6"><ellipse class="e2" cx="466" cy="167" rx="7.5" ry="3.2"/><text class="x2" x="466" y="168.9">CYP2A6</text></g>
<g id="n-ugt1a9"><ellipse class="e2" cx="378" cy="173" rx="7.5" ry="3.2"/><text class="x2" x="378" y="174.9">UGT1A9</text></g>
<g id="n-ghrl"><ellipse class="e2" cx="403" cy="173" rx="7.5" ry="3.2"/><text class="x2" x="403" y="174.9">GHRL</text></g>
<g id="n-serpine1"><ellipse class="e2" cx="493" cy="148" rx="8" ry="3.5"/><text class="x2b" x="493" y="150.2">SERPINE1</text></g>
<g id="n-gpx1"><ellipse class="e2" cx="509" cy="139" rx="8" ry="3.5"/><text class="x2b" x="509" y="141.2">GPX1</text></g>
<g id="n-gpr55"><ellipse class="e2" cx="521" cy="148" rx="8" ry="3.5"/><text class="x2b" x="521" y="150.2">GPR55</text></g>
<g id="n-gstm3"><ellipse class="e2" cx="521" cy="157" rx="8" ry="3.5"/><text class="x2b" x="521" y="159.2">GSTM3</text></g>
<g id="n-timp1"><ellipse class="e2" cx="497" cy="163" rx="8" ry="3.5"/><text class="x2b" x="497" y="165.2">TIMP1</text></g>
<g id="n-htr3a"><ellipse class="e2" cx="521" cy="167" rx="8" ry="3.5"/><text class="x2b" x="521" y="169.2">HTR3A</text></g>
<g id="n-ppara"><ellipse class="e2" cx="510" cy="176" rx="8" ry="3.5"/><text class="x2b" x="510" y="178.2">PPARA</text></g>

<g id="n-cnr2"><ellipse class="e3" cx="33" cy="209" rx="9" ry="4"/><text class="x3" x="33" y="211.3">CNR2</text></g>
<g id="n-cyp3a5"><ellipse class="e3" cx="50" cy="218" rx="7" ry="3.5"/><text class="x3" x="47" y="220.3">CYP3A5</text></g>
<g id="n-s1pr1"><ellipse class="e3" cx="32" cy="226" rx="9" ry="4"/><text class="x3" x="32" y="228.3">S1PR1</text></g>
<g id="n-ccl4"><ellipse class="e3" cx="77" cy="218" rx="9" ry="4"/><text class="x3" x="77" y="220.3">CCL4</text></g>
<g id="n-adora1"><ellipse class="e3" cx="102" cy="218" rx="7" ry="3.5"/><text class="x3" x="102" y="220.3">ADORA1</text></g>
<g id="n-nos2"><ellipse class="e3" cx="134" cy="207" rx="9" ry="4"/><text class="x3" x="134" y="209.3">NOS2</text></g>
<g id="n-fyn"><ellipse class="e3" cx="156" cy="207" rx="9" ry="4"/><text class="x3" x="156" y="209.3">FYN</text></g>
<g id="n-trpv1"><ellipse class="e3" cx="130" cy="220" rx="9" ry="4"/><text class="x3" x="130" y="222.3">TRPV1</text></g>
<g id="n-ache"><ellipse class="e3" cx="162" cy="220" rx="10" ry="4"/><text class="x3" x="162" y="222.3">ACHE</text></g>
<g id="n-vcam1"><ellipse class="e3" cx="186" cy="218" rx="7" ry="3.5"/><text class="x3" x="186" y="220.3">VCAM1</text></g>
<g id="n-ugt1a1"><ellipse class="e3" cx="188" cy="201" rx="9" ry="4"/><text class="x3m" x="188" y="203.5">UGT1A1</text></g>
<g id="n-ugt1a8"><ellipse class="e3" cx="215" cy="201" rx="9" ry="4"/><text class="x3m" x="215" y="203.5">UGT1A8</text></g>
<g id="n-cyp2d6"><ellipse class="e3" cx="220" cy="217" rx="10" ry="4"/><text class="x3m" x="220" y="219.5">CYP2D6</text></g>
<g id="n-cyp2c19"><ellipse class="e3" cx="255" cy="217" rx="10" ry="4"/><text class="x3m" x="255" y="219.5">CYP2C19</text></g>
<g id="n-abcg2"><ellipse class="e3" cx="283" cy="217" rx="9" ry="4"/><text class="x3m" x="283" y="219.5">ABCG2</text></g>
<g id="n-grin2b"><ellipse class="e3" cx="266" cy="203" rx="10" ry="4"/><text class="x3m" x="266" y="205.5">GRIN2B</text></g>
<g id="n-nr3c1"><ellipse class="e3" cx="136" cy="234" rx="7" ry="3.5"/><text class="x3" x="136" y="236.3">NR3C1</text></g>
<g id="n-th"><ellipse class="e3" cx="160" cy="234" rx="10" ry="4"/><text class="x3" x="160" y="236.3">TH</text></g>
<g id="n-gsr"><ellipse class="e3" cx="193" cy="231" rx="9" ry="4"/><text class="x3m" x="193" y="233.5">GSR</text></g>
<g id="n-cyp1b1"><ellipse class="e3" cx="218" cy="231" rx="9" ry="4"/><text class="x3m" x="218" y="233.5">CYP1B1</text></g>
<g id="n-ifng"><ellipse class="e3" cx="267" cy="231" rx="10" ry="4"/><text class="x3m" x="267" y="233.5">IFNG</text></g>
<g id="n-oprd1"><ellipse class="e3" cx="313" cy="208" rx="11" ry="4.2"/><text class="x3m" x="313" y="210.5">OPRD1</text></g>
<g id="n-kdr"><ellipse class="e3" cx="352" cy="208" rx="11" ry="4.2"/><text class="x3m" x="352" y="210.5">KDR</text></g>
<g id="n-cyp1a2"><ellipse class="e3" cx="392" cy="207" rx="8" ry="3.5"/><text class="x3b" x="392" y="209.6">CYP1A2</text></g>
<g id="n-abcb1"><ellipse class="e3" cx="409" cy="218" rx="8" ry="3.5"/><text class="x3b" x="407" y="220.6">ABCB1</text></g>
<g id="n-htr1a"><ellipse class="e3" cx="392" cy="229" rx="11" ry="4.2"/><text class="x3m" x="392" y="231.5">HTR1A</text></g>
<g id="n-sod1"><ellipse class="e3" cx="453" cy="206" rx="12" ry="4.5"/><text class="x3b" x="453" y="208.6">SOD1</text></g>
<g id="n-ccl5"><ellipse class="e3" cx="442" cy="218" rx="11" ry="4.5"/><text class="x3b" x="442" y="220.6">CCL5</text></g>
<g id="n-ar"><ellipse class="e3" cx="469" cy="218" rx="12" ry="4.5"/><text class="x3b" x="469" y="220.6">AR</text></g>
<g id="n-sod2"><ellipse class="e3" cx="497" cy="218" rx="12" ry="4.5"/><text class="x3b" x="497" y="220.6">SOD2</text></g>
<g id="n-nqo1"><ellipse class="e3" cx="524" cy="218" rx="12" ry="4.5"/><text class="x3b" x="524" y="220.6">NQO1</text></g>
<g id="n-cyp2c9"><ellipse class="e3" cx="453" cy="228" rx="9" ry="4"/><text class="x3m" x="453" y="230.5">CYP2C9</text></g>

<g id="n-erbb2"><ellipse class="e4" cx="45" cy="264" rx="11" ry="4.5"/><text class="x4" x="45" y="267">ERBB2</text></g>
<g id="n-cyp1a1"><ellipse class="e4" cx="85" cy="266" rx="9" ry="4"/><text class="x4" x="85" y="269">CYP1A1</text></g>
<g id="n-comt"><ellipse class="e4" cx="25" cy="277" rx="12" ry="5"/><text class="x4" x="25" y="280">COMT</text></g>
<g id="n-gstp1"><ellipse class="e4" cx="66" cy="277" rx="12" ry="5"/><text class="x4" x="66" y="280">GSTP1</text></g>
<g id="n-drd2"><ellipse class="e4" cx="107" cy="277" rx="12" ry="5"/><text class="x4" x="107" y="280">DRD2</text></g>
<g id="n-il2"><ellipse class="e4" cx="150" cy="277" rx="13" ry="5"/><text class="x4" x="150" y="280">IL2</text></g>
<g id="n-hmox1"><ellipse class="e4" cx="188" cy="277" rx="12" ry="5"/><text class="x4" x="188" y="280">HMOX1</text></g>
<g id="n-oprm1"><ellipse class="e4" cx="230" cy="277" rx="13" ry="5"/><text class="x4" x="230" y="280">OPRM1</text></g>
<g id="n-ppig"><ellipse class="e4" cx="274" cy="277" rx="14" ry="5.5"/><text class="x4b" x="275" y="280.4">PPIG</text></g>
<g id="n-ahr"><ellipse class="e4" cx="202" cy="264" rx="14" ry="5.5"/><text class="x4b" x="202" y="267.4">AHR</text></g>
<g id="n-cycs"><ellipse class="e4" cx="255" cy="266" rx="14" ry="5.5"/><text class="x4b" x="255" y="269.4">CYCS</text></g>
<g id="n-icam1"><ellipse class="e4" cx="45" cy="288" rx="12" ry="5"/><text class="x4" x="45" y="291">ICAM1</text></g>
<g id="n-rhoa"><ellipse class="e4" cx="87" cy="287" rx="12" ry="5"/><text class="x4" x="87" y="290">RHOA</text></g>
<g id="n-pparg"><ellipse class="e4" cx="198" cy="292" rx="14" ry="5.5"/><text class="x4" x="198" y="295">PPARG</text></g>
<g id="n-cnr1"><ellipse class="e4" cx="255" cy="289" rx="14" ry="5.5"/><text class="x4b" x="255" y="292.4">CNR1</text></g>

<g id="n-cyp3a4"><ellipse cx="349" cy="262" rx="13" ry="5.5" fill="#d6ee72"/><text x="349" y="265.2" font-size="9">CYP3A4</text></g>
<g id="n-esr1"><ellipse cx="400" cy="262" rx="17" ry="6" fill="#ecee5c"/><text x="400" y="265.9" font-size="11">ESR1</text></g>
<g id="n-bdnf"><ellipse cx="448" cy="262" rx="17" ry="6" fill="#e3f062"/><text x="448" y="265.9" font-size="11">BDNF</text></g>
<g id="n-egfr"><ellipse cx="498" cy="262" rx="21" ry="7" fill="#f5c04e"/><text x="498" y="266.6" font-size="13">EGFR</text></g>
<g id="n-creb1"><ellipse cx="332" cy="283" rx="14" ry="5.5" fill="#d8ee68"/><text x="332" y="286.3" font-size="9.4">CREB1</text></g>
<g id="n-il1b"><ellipse cx="378" cy="283" rx="15" ry="5.5" fill="#d9f066"/><text x="378" y="286.3" font-size="9.4">IL1B</text></g>
<g id="n-cat"><ellipse cx="427" cy="283" rx="19" ry="6.5" fill="#f4e85a"/><text x="427" y="287" font-size="11.5">CAT</text></g>
<g id="n-cxcl8"><ellipse cx="470" cy="283" rx="18" ry="6.5" fill="#f2e36a"/><text x="470" y="287" font-size="11.5">CXCL8</text></g>
<g id="n-ptgs2"><ellipse cx="518" cy="283" rx="22" ry="7" fill="#f6c465"/><text x="518" y="287.3" font-size="12.5">PTGS2</text></g>

<g id="n-tnf"><ellipse cx="28" cy="322.5" rx="22" ry="8.5" fill="#f6b84e"/><text x="28" y="327.2" font-size="13">TNF</text></g>
<g id="n-akt1"><ellipse cx="100" cy="322.5" rx="27" ry="9.5" fill="#f27a5c"/><text x="100" y="328.4" font-size="16.5">AKT1</text></g>
<g id="n-alb"><ellipse cx="172.5" cy="323" rx="29.5" ry="11" fill="#ee5c58"/><text x="172.5" y="329.1" font-size="17">ALB</text></g>
<g id="n-ins"><ellipse cx="242.5" cy="323" rx="29.5" ry="11" fill="#ef5858"/><text x="242.5" y="329.4" font-size="18">INS</text></g>
</g>
</svg>
